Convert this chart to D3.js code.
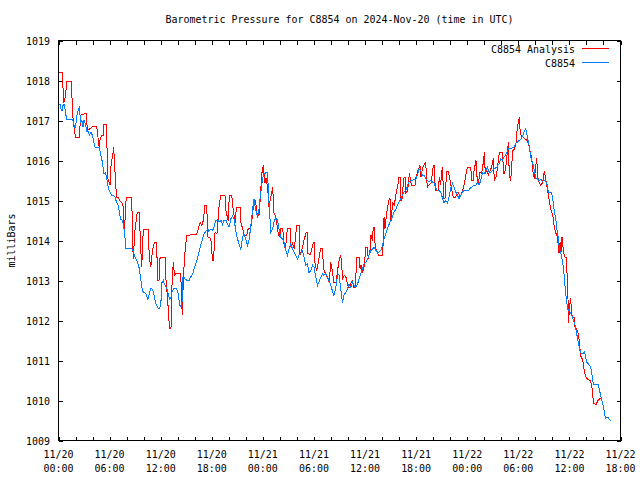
<!DOCTYPE html>
<html>
<head>
<meta charset="utf-8">
<script src="https://cdn.jsdelivr.net/npm/d3@7"></script>
<style>
  html, body { margin: 0; padding: 0; background: #ffffff; }
  svg { display: block; }
  text { font-family: "DejaVu Sans Mono", "Liberation Mono", monospace; font-size: 11px; fill: #000; }
</style>
</head>
<body>
<svg id="chart" width="640" height="480"></svg>
<script>
// ---------------- DATA ----------------
const chartTitle = "Barometric Pressure for C8854 on 2024-Nov-20 (time in UTC)";
const yAxisTitle = "milliBars";
const seriesNames = ["C8854 Analysis", "C8854"];
const seriesColors = ["#ff0000", "#0080ff"];

// hours since 2024-11-20 00:00 UTC
const xTickHours = [0, 6, 12, 18, 24, 30, 36, 42, 48, 54, 60, 66];
const xTickDates = ["11/20", "11/20", "11/20", "11/20", "11/21", "11/21", "11/21", "11/21", "11/22", "11/22", "11/22", "11/22"];
const xTickTimes = ["00:00", "06:00", "12:00", "18:00", "00:00", "06:00", "12:00", "18:00", "00:00", "06:00", "12:00", "18:00"];
const xMinorHours = d3.range(0, 67, 2);
const yTicks = [1009, 1010, 1011, 1012, 1013, 1014, 1015, 1016, 1017, 1018, 1019];

// [hour, mbar]  C8854 Analysis
const analysis = [
[0.00,1018.20],[0.47,1018.20],[0.59,1017.43],[0.76,1017.55],[1.00,1017.98],[1.53,1017.98],[1.64,1017.20],[1.82,1016.83],[2.00,1016.58],[2.47,1016.58],
[2.58,1017.13],[3.23,1017.18],[3.41,1016.75],[3.70,1016.80],[4.02,1016.85],[4.49,1016.85],[4.79,1016.30],[4.87,1016.50],[5.07,1016.63],[5.26,1016.63],
[5.34,1016.90],[5.58,1016.90],[5.66,1016.58],[5.81,1015.55],[6.05,1015.38],[6.17,1015.88],[6.44,1016.25],[6.48,1016.33],[6.64,1015.70],[6.81,1015.08],
[6.99,1015.08],[7.22,1014.98],[7.54,1014.93],[7.63,1014.75],[7.73,1014.08],[7.87,1014.83],[7.96,1015.08],[8.60,1015.08],[8.71,1013.95],[8.78,1013.55],
[8.98,1014.25],[9.25,1014.70],[9.49,1014.70],[9.65,1013.83],[9.77,1013.33],[9.96,1014.28],[10.55,1014.28],[10.66,1013.55],[10.84,1013.35],[11.04,1013.75],
[11.25,1013.95],[11.53,1013.95],[11.63,1013.00],[11.80,1013.00],[11.92,1013.55],[12.04,1013.58],[12.51,1013.58],[12.63,1013.00],[12.80,1012.58],[12.95,1012.08],
[13.04,1011.80],[13.21,1011.80],[13.33,1012.88],[13.48,1013.45],[13.62,1013.13],[13.80,1013.18],[14.27,1013.18],[14.39,1012.95],[14.53,1012.13],[14.66,1013.00],
[14.80,1013.58],[15.06,1014.13],[16.23,1014.15],[16.42,1014.30],[16.65,1014.45],[16.82,1014.38],[17.01,1014.50],[17.20,1014.88],[17.40,1014.88],[17.56,1014.08],
[17.89,1014.05],[18.09,1013.50],[18.20,1013.50],[18.38,1014.20],[18.61,1014.18],[18.87,1014.88],[19.05,1015.13],[19.55,1015.13],[19.67,1014.75],[19.91,1014.50],
[20.02,1014.95],[20.12,1015.13],[20.34,1015.13],[20.53,1014.75],[20.73,1014.45],[20.90,1014.83],[21.32,1014.83],[21.43,1014.45],[21.61,1014.30],[21.84,1014.13],
[22.10,1014.13],[22.25,1014.28],[22.58,1014.33],[22.78,1014.63],[22.96,1015.00],[23.14,1015.00],[23.37,1014.58],[23.55,1014.65],[23.66,1014.93],[23.86,1015.65],
[24.05,1015.88],[24.25,1015.43],[24.37,1015.55],[24.57,1015.30],[24.72,1014.83],[24.92,1015.08],[25.15,1015.33],[25.31,1014.68],[25.54,1014.58],[25.74,1014.25],
[25.93,1014.08],[26.13,1014.30],[26.33,1014.30],[26.52,1013.83],[26.68,1013.83],[26.87,1014.30],[27.19,1014.30],[27.27,1013.83],[27.46,1013.93],[27.69,1013.80],
[27.89,1014.20],[27.97,1014.38],[28.28,1014.38],[28.36,1013.63],[28.56,1013.75],[28.83,1014.00],[29.07,1014.20],[29.22,1014.20],[29.30,1013.68],[29.54,1013.63],
[29.77,1013.80],[29.92,1013.95],[30.04,1013.95],[30.12,1013.43],[30.32,1013.25],[30.51,1013.45],[30.79,1013.80],[31.03,1013.80],[31.10,1013.30],[31.30,1013.20],
[31.57,1013.08],[31.80,1012.95],[31.97,1013.45],[32.15,1013.25],[32.35,1012.95],[32.59,1012.95],[32.74,1013.20],[32.98,1013.55],[33.15,1013.63],[33.38,1013.05],
[33.56,1013.13],[33.76,1013.08],[34.03,1012.83],[34.23,1012.83],[34.35,1012.93],[34.55,1013.00],[34.62,1012.83],[34.82,1012.83],[34.94,1013.20],[35.02,1013.58],
[35.33,1013.58],[35.41,1013.30],[35.53,1013.38],[35.72,1013.20],[35.91,1013.38],[36.11,1013.83],[36.26,1013.83],[36.38,1013.55],[36.58,1013.75],[36.70,1014.13],
[36.85,1014.00],[36.97,1014.33],[37.09,1014.33],[37.20,1013.80],[37.37,1013.75],[37.56,1013.63],[38.07,1013.63],[38.23,1014.58],[38.34,1014.30],[38.54,1014.70],
[38.85,1015.05],[38.93,1015.05],[39.05,1014.50],[39.25,1014.93],[39.44,1014.88],[39.64,1015.18],[39.84,1015.38],[39.99,1015.58],[40.11,1015.58],[40.22,1015.00],
[40.38,1015.05],[40.49,1015.45],[40.58,1015.58],[40.73,1015.58],[40.81,1015.18],[41.01,1015.25],[41.20,1015.68],[41.40,1015.43],[41.48,1015.38],[41.87,1015.38],
[41.98,1015.58],[42.18,1015.73],[42.45,1015.88],[42.57,1015.58],[42.77,1015.83],[43.12,1015.95],[43.31,1015.33],[43.48,1015.38],[43.75,1015.43],[44.02,1015.88],
[44.10,1015.88],[44.25,1015.30],[44.33,1015.25],[44.60,1015.25],[44.72,1015.58],[44.86,1015.38],[45.07,1015.83],[45.27,1015.05],[45.39,1015.05],[45.59,1015.73],
[45.78,1015.73],[46.09,1015.38],[46.36,1015.08],[46.65,1015.08],[46.76,1015.18],[47.00,1015.20],[47.15,1015.08],[47.39,1015.20],[47.66,1015.43],[47.94,1015.75],
[48.01,1015.83],[48.41,1015.83],[48.53,1015.50],[48.71,1015.50],[48.80,1015.75],[49.03,1016.00],[49.18,1015.50],[49.30,1015.43],[49.50,1015.70],[49.70,1015.68],
[49.89,1015.95],[50.01,1016.20],[50.12,1015.68],[50.29,1015.75],[50.48,1015.63],[50.68,1015.75],[50.87,1015.83],[51.06,1016.05],[51.18,1015.50],[51.38,1015.58],
[51.53,1015.78],[51.77,1016.20],[52.17,1016.20],[52.24,1015.68],[52.40,1015.68],[52.55,1015.88],[52.83,1016.45],[52.94,1015.63],[53.11,1015.50],[53.34,1016.25],
[53.53,1016.28],[53.73,1016.43],[53.88,1016.83],[54.12,1017.08],[54.23,1016.68],[54.40,1016.60],[54.59,1016.58],[54.79,1016.53],[55.06,1016.50],[55.29,1016.33],
[55.57,1016.05],[55.69,1015.75],[55.88,1015.55],[56.16,1016.05],[56.28,1015.58],[56.46,1015.45],[56.66,1015.38],[56.86,1015.45],[57.05,1015.73],[57.25,1015.50],
[57.45,1015.25],[57.64,1015.00],[57.84,1014.75],[58.04,1014.65],[58.19,1014.38],[58.37,1014.20],[58.54,1014.13],[58.70,1013.88],[58.78,1013.70],[58.90,1013.95],
[59.01,1013.70],[59.13,1014.08],[59.31,1013.70],[59.48,1013.58],[59.64,1013.58],[59.72,1013.18],[59.84,1012.50],[59.89,1011.95],[60.01,1012.33],[60.15,1012.55],
[60.25,1012.18],[60.42,1012.08],[60.54,1012.08],[60.66,1011.83],[60.83,1011.80],[61.01,1011.68],[61.19,1011.45],[61.30,1011.13],[61.48,1011.05],[61.60,1010.95],
[61.77,1010.70],[61.95,1010.58],[62.13,1010.53],[62.48,1010.50],[62.65,1010.33],[62.83,1009.93],[63.12,1009.90],[63.36,1010.00],[63.59,1010.05],[63.79,1010.08]
];

// [hour, mbar]  C8854 station
const station = [
[0.00,1017.42],[0.18,1017.40],[0.29,1017.30],[0.41,1017.23],[0.53,1017.38],[0.70,1017.40],[0.82,1017.21],[0.96,1017.02],[1.64,1017.02],[1.76,1016.95],
[1.88,1016.83],[2.00,1016.83],[2.11,1017.05],[2.23,1017.20],[2.35,1017.29],[2.47,1017.33],[2.58,1016.95],[2.76,1017.00],[2.88,1016.83],[2.99,1017.00],
[3.11,1016.95],[3.23,1016.83],[3.35,1016.71],[3.46,1016.75],[3.64,1016.63],[3.82,1016.70],[3.99,1016.63],[4.11,1016.50],[4.29,1016.33],[4.76,1016.33],
[4.93,1016.18],[5.11,1016.00],[5.23,1015.83],[5.34,1015.67],[5.52,1015.70],[5.70,1015.50],[5.87,1015.30],[6.05,1015.21],[6.22,1015.13],[6.44,1015.13],
[6.64,1015.08],[6.81,1014.96],[6.99,1014.88],[7.11,1014.75],[7.28,1014.54],[7.52,1014.50],[7.69,1014.30],[7.85,1014.00],[7.93,1013.79],[8.60,1013.79],
[8.75,1013.75],[8.93,1013.63],[9.10,1013.53],[9.28,1013.46],[9.45,1013.33],[9.63,1013.08],[9.81,1012.80],[9.98,1012.69],[10.16,1012.69],[10.33,1012.65],
[10.49,1012.51],[10.63,1012.63],[10.80,1012.79],[10.98,1012.79],[11.10,1012.73],[11.27,1012.58],[11.43,1012.42],[11.63,1012.33],[11.80,1012.29],[11.98,1012.35],
[12.07,1012.58],[12.15,1012.95],[12.31,1013.00],[12.39,1012.94],[12.57,1012.86],[12.74,1012.78],[12.92,1012.63],[13.07,1012.54],[13.21,1012.58],[13.33,1012.71],
[13.51,1012.79],[13.86,1012.79],[13.98,1012.75],[14.13,1012.55],[14.25,1012.38],[14.39,1012.33],[14.54,1012.50],[14.60,1013.08],[14.74,1013.08],[14.86,1013.04],
[15.09,1013.00],[15.33,1013.00],[15.50,1013.08],[15.74,1013.15],[15.91,1013.29],[16.15,1013.43],[16.32,1013.56],[16.50,1013.71],[16.68,1013.86],[16.91,1014.03],
[17.09,1014.17],[17.40,1014.25],[17.56,1014.29],[17.67,1014.23],[17.91,1014.29],[18.09,1014.25],[18.26,1014.33],[18.47,1014.50],[18.67,1014.52],[18.85,1014.46],
[19.08,1014.50],[19.26,1014.40],[19.44,1014.50],[19.67,1014.50],[19.85,1014.42],[20.02,1014.33],[20.24,1014.54],[20.43,1014.61],[20.61,1014.54],[20.82,1014.25],
[21.02,1014.04],[21.20,1013.92],[21.41,1013.77],[21.61,1014.08],[21.79,1014.17],[22.00,1014.03],[22.20,1013.88],[22.37,1014.00],[22.58,1014.35],[22.78,1014.75],
[22.96,1015.03],[23.17,1014.75],[23.37,1014.58],[23.55,1014.80],[23.76,1015.21],[23.96,1015.54],[24.13,1015.67],[24.35,1015.69],[24.54,1015.71],[24.72,1014.95],
[24.93,1014.21],[25.13,1014.29],[25.31,1014.46],[25.52,1014.58],[25.72,1014.50],[25.90,1014.28],[26.11,1014.08],[26.31,1014.04],[26.48,1013.96],[26.69,1013.75],
[26.89,1013.63],[27.07,1013.79],[27.28,1013.92],[27.48,1013.79],[27.66,1013.71],[27.87,1013.63],[28.07,1013.54],[28.24,1013.63],[28.46,1013.68],[28.66,1013.75],
[28.83,1013.58],[29.04,1013.38],[29.24,1013.42],[29.42,1013.19],[29.63,1013.25],[29.83,1013.38],[30.01,1013.33],[30.22,1013.08],[30.42,1012.88],[30.59,1012.96],
[30.80,1013.08],[31.00,1013.17],[31.18,1013.13],[31.39,1013.17],[31.59,1013.08],[31.77,1013.00],[31.98,1012.88],[32.18,1012.73],[32.35,1012.63],[32.57,1012.83],
[32.77,1013.13],[32.94,1013.15],[33.15,1012.79],[33.35,1012.44],[33.53,1012.63],[33.74,1012.71],[33.94,1012.79],[34.12,1012.92],[34.33,1012.83],[34.53,1012.96],
[34.70,1012.88],[34.91,1012.83],[35.11,1012.90],[35.29,1013.04],[35.50,1013.17],[35.70,1013.29],[35.88,1013.42],[36.09,1013.46],[36.29,1013.54],[36.46,1013.63],
[36.68,1013.75],[36.88,1013.79],[37.05,1013.83],[37.26,1013.75],[37.46,1013.71],[37.64,1013.71],[37.85,1013.75],[38.05,1013.88],[38.23,1014.04],[38.44,1014.17],
[38.64,1014.29],[38.81,1014.40],[39.03,1014.50],[39.23,1014.61],[39.40,1014.71],[39.61,1014.78],[39.81,1014.88],[39.99,1014.96],[40.20,1015.04],[40.40,1015.13],
[40.58,1015.21],[40.79,1015.25],[40.99,1015.38],[41.16,1015.46],[41.37,1015.50],[41.87,1015.52],[41.98,1015.54],[42.16,1015.65],[42.34,1015.78],[42.55,1015.75],
[42.75,1015.63],[42.92,1015.63],[43.14,1015.54],[43.34,1015.50],[43.51,1015.46],[43.72,1015.50],[43.92,1015.46],[44.10,1015.44],[44.31,1015.31],[44.51,1015.25],
[44.69,1015.25],[44.90,1015.21],[45.10,1015.05],[45.27,1014.94],[45.48,1015.00],[45.68,1014.94],[45.86,1015.08],[46.07,1015.31],[46.27,1015.42],[46.45,1015.33],
[46.66,1015.21],[46.86,1015.13],[47.03,1015.04],[47.25,1015.13],[47.45,1015.21],[47.62,1015.25],[48.13,1015.25],[48.42,1015.32],[48.62,1015.35],[48.80,1015.38],
[49.03,1015.38],[49.21,1015.45],[49.38,1015.38],[49.59,1015.50],[49.79,1015.69],[49.97,1015.67],[50.18,1015.75],[50.38,1015.83],[50.56,1015.71],[50.77,1015.71],
[50.97,1015.75],[51.15,1015.79],[51.46,1015.83],[51.73,1015.92],[51.94,1016.04],[52.14,1016.00],[52.32,1016.08],[52.53,1016.15],[52.73,1016.25],[52.91,1016.31],
[53.12,1016.29],[53.32,1016.33],[53.49,1016.33],[53.71,1016.44],[53.90,1016.46],[54.08,1016.50],[54.29,1016.52],[54.49,1016.61],[54.67,1016.71],[54.88,1016.79],
[55.08,1016.58],[55.26,1016.38],[55.47,1016.08],[55.67,1015.96],[55.84,1015.78],[56.05,1015.56],[56.25,1015.54],[56.43,1015.50],[56.64,1015.53],[56.84,1015.48],
[57.13,1015.50],[57.33,1015.43],[57.43,1015.35],[57.52,1015.21],[57.90,1015.21],[58.02,1015.08],[58.13,1014.90],[58.25,1014.70],[58.40,1014.56],[58.49,1014.31],
[58.60,1014.23],[58.72,1014.00],[58.84,1013.78],[58.99,1013.68],[59.17,1013.50],[59.31,1013.30],[59.48,1012.88],[59.62,1012.58],[59.74,1012.38],[59.86,1012.25],
[59.99,1012.27],[60.16,1012.17],[60.36,1012.08],[60.52,1011.98],[60.68,1011.88],[60.80,1011.73],[60.95,1011.56],[61.10,1011.38],[61.24,1011.25],[61.40,1011.17],
[61.56,1011.17],[61.74,1011.21],[61.87,1011.13],[62.03,1010.96],[62.27,1010.90],[62.51,1010.83],[62.68,1010.60],[62.81,1010.40],[63.39,1010.40],[63.50,1010.29],
[63.69,1010.11],[63.89,1009.94],[64.09,1009.73],[64.24,1009.55],[64.41,1009.58],[64.53,1009.58],[64.68,1009.52],[64.85,1009.50]
];

// ---------------- CHART ----------------
const svg = d3.select("#chart");
const plotLeft = 58.5, plotRight = 620.5, plotTop = 40.5, plotBottom = 440.5;
const CH = 6; // char advance (px) of the bitmap-like font

const x = d3.scaleLinear().domain([0, 66]).range([plotLeft, plotRight]);
const y = d3.scaleLinear().domain([1009, 1019]).range([plotBottom, plotTop]);

function txt(g, s, px, py, anchor) {
  return g.append("text")
    .attr("x", px).attr("y", py)
    .attr("text-anchor", anchor)
    .attr("textLength", s.length * CH)
    .attr("lengthAdjust", "spacingAndGlyphs")
    .text(s);
}

// Title
txt(svg, chartTitle, (plotLeft + plotRight) / 2, 23, "middle");

// Y axis title
svg.append("text")
  .attr("transform", `translate(15,${(plotTop + plotBottom) / 2}) rotate(-90)`)
  .attr("text-anchor", "middle")
  .attr("textLength", yAxisTitle.length * CH)
  .attr("lengthAdjust", "spacingAndGlyphs")
  .text(yAxisTitle);

// Axes ticks (inward, mirrored)
function styleAxis(g) {
  g.select(".domain").remove();
  g.selectAll(".tick line").attr("stroke", "#000").attr("shape-rendering", "crispEdges");
  g.selectAll(".tick text").remove();
}
svg.append("g").attr("transform", `translate(0,${plotBottom})`)
  .call(d3.axisBottom(x).tickValues(xMinorHours).tickSize(-4).tickFormat(""))
  .call(styleAxis);
svg.append("g").attr("transform", `translate(0,${plotTop})`)
  .call(d3.axisTop(x).tickValues(xMinorHours).tickSize(-4).tickFormat(""))
  .call(styleAxis);
svg.append("g").attr("transform", `translate(${plotLeft},0)`)
  .call(d3.axisLeft(y).tickValues(yTicks).tickSize(-4).tickFormat(""))
  .call(styleAxis);
svg.append("g").attr("transform", `translate(${plotRight},0)`)
  .call(d3.axisRight(y).tickValues(yTicks).tickSize(-4).tickFormat(""))
  .call(styleAxis);

// Y tick labels
const yl = svg.append("g");
yTicks.forEach(v => txt(yl, String(v), 50, y(v) + 4, "end"));

// X tick labels (two lines)
const xl = svg.append("g");
xTickHours.forEach((h, i) => {
  txt(xl, xTickDates[i], x(h), 458, "middle");
  txt(xl, xTickTimes[i], x(h), 471.5, "middle");
});

// Data lines
const line = d3.line().x(d => x(d[0])).y(d => y(d[1]));
const series = [analysis, station];
series.forEach((data, i) => {
  svg.append("path")
    .datum(data)
    .attr("fill", "none")
    .attr("stroke", seriesColors[i])
    .attr("stroke-width", 1)
    .attr("shape-rendering", "crispEdges")
    .attr("d", line);
});

// Border
svg.append("rect")
  .attr("x", plotLeft).attr("y", plotTop)
  .attr("width", plotRight - plotLeft).attr("height", plotBottom - plotTop)
  .attr("fill", "none").attr("stroke", "#000").attr("stroke-width", 1)
  .attr("shape-rendering", "crispEdges");

// Legend
const lg = svg.append("g");
seriesNames.forEach((name, i) => {
  const ly = 48.5 + i * 14;
  txt(lg, name, 575, ly + 4, "end");
  lg.append("line")
    .attr("x1", 582).attr("x2", 609)
    .attr("y1", ly).attr("y2", ly)
    .attr("stroke", seriesColors[i]).attr("stroke-width", 1)
    .attr("shape-rendering", "crispEdges");
});
</script>
</body>
</html>
